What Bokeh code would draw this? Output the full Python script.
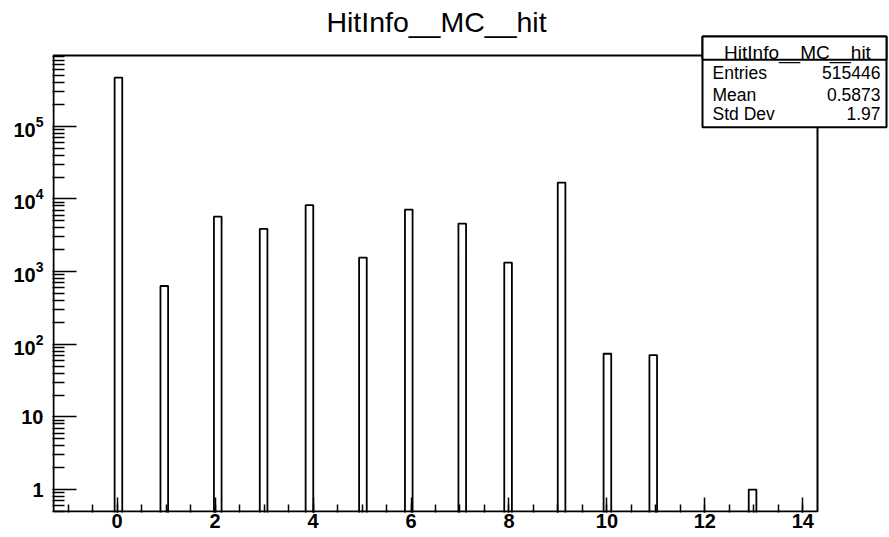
import numpy as np
from bokeh.plotting import figure
from bokeh.models import (Range1d, FixedTicker, LogTickFormatter,
                          BoxAnnotation, Label)
from bokeh.embed import file_html
from bokeh.resources import INLINE

# ---------------- data ----------------
title_text = "HitInfo__MC__hit"
hit_values = [0, 1, 2, 3, 4, 5, 6, 7, 8, 9, 10, 11, 13]
hit_counts = [465477, 633, 5720, 3860, 8200, 1560, 7140, 4580, 1330, 16800, 74, 71, 1]
n_bins = 100
x_min, x_max = -1.3, 14.3
y_min, y_max = 0.5, 9.4e5

stats_names = ["Entries", "Mean", "Std Dev"]
stats_values = ["515446", "0.5873", "1.97"]

x_tick_values = [0, 2, 4, 6, 8, 10, 12, 14]
y_tick_values = [1, 10, 100, 1000, 10000, 100000]
y_plain_labels = {1: "1", 10: "10"}

FONT = "Liberation Sans"

# ---------------- layout (pixels) ----------------
W, H = 889, 537
frame_l, frame_b = 52, 25                 # axis panels
hist_left_px, hist_right_px = 53, 817     # histogram pad inside the canvas
hist_top_px, hist_bot_px = 55, 511

px_per_x = (hist_right_px - hist_left_px) / (x_max - x_min)
px_per_dec = (hist_bot_px - hist_top_px) / (np.log10(y_max) - np.log10(y_min))
xr_start = x_min - (hist_left_px - frame_l) / px_per_x
xr_end = x_max + (W - hist_right_px) / px_per_x
yr_start = 10 ** (np.log10(y_min) - ((H - frame_b) - hist_bot_px) / px_per_dec)
yr_end = 10 ** (np.log10(y_max) + hist_top_px / px_per_dec)

def fx(X):   # canvas x -> frame screen x
    return X - frame_l

def fy(Y):   # canvas y -> frame screen y (from frame bottom)
    return (H - frame_b) - Y

# histogram bins (ROOT style: 100 bins over the axis range)
edges = np.linspace(x_min, x_max, n_bins + 1)
idx = np.searchsorted(edges, np.array(hit_values, dtype=float), side="right") - 1
lefts = edges[idx]
rights = edges[idx + 1]

p = figure(width=W, height=H,
           x_range=Range1d(xr_start, xr_end), y_range=Range1d(yr_start, yr_end),
           y_axis_type="log", output_backend="svg", toolbar_location=None,
           min_border_left=frame_l, min_border_right=0,
           min_border_top=0, min_border_bottom=frame_b)

p.background_fill_color = "white"
p.border_fill_color = "white"
p.outline_line_color = None
p.grid.visible = False

p.quad(left=lefts, right=rights, top=hit_counts, bottom=0.05,
       fill_color=None, line_color="black", line_width=1.8)

# frame box of the histogram pad
p.line(x=[x_min, x_max, x_max, x_min, x_min],
       y=[y_min, y_min, y_max, y_max, y_min],
       line_color="black", line_width=2)

# x axis
x_minor = [k * 0.5 for k in range(-10, 40) if x_min <= k * 0.5 <= x_max]
xa = p.xaxis[0]
xa.ticker = FixedTicker(ticks=x_tick_values, minor_ticks=x_minor)
xa.major_tick_in = 15
xa.major_tick_out = 0
xa.minor_tick_in = 8
xa.minor_tick_out = 0
xa.major_tick_line_width = 1.5
xa.minor_tick_line_width = 1.5
xa.axis_line_color = None
xa.major_tick_line_color = "black"
xa.minor_tick_line_color = "black"
xa.major_label_text_font = FONT
xa.major_label_text_font_style = "bold"
xa.major_label_text_font_size = "20px"
xa.major_label_text_color = "black"
xa.major_label_standoff = 1

# y axis
minor_y = []
for e in range(-1, 6):
    for m in range(2, 10):
        v = m * 10.0 ** e
        if y_min <= v <= y_max:
            minor_y.append(v)
ya = p.yaxis[0]
ya.ticker = FixedTicker(ticks=y_tick_values, minor_ticks=minor_y)
ya.formatter = LogTickFormatter()
ya.major_label_overrides = y_plain_labels
ya.major_tick_in = 24
ya.major_tick_out = 0
ya.minor_tick_in = 12
ya.minor_tick_out = 0
ya.major_tick_line_width = 1.5
ya.minor_tick_line_width = 1.5
ya.axis_line_color = None
ya.major_tick_line_color = "black"
ya.minor_tick_line_color = "black"
ya.major_label_text_font = FONT
ya.major_label_text_font_style = "bold"
ya.major_label_text_font_size = "20px"
ya.major_label_text_color = "black"
ya.major_label_standoff = 9

# title
p.add_layout(Label(x=(x_min + x_max) / 2 + 0.02, y=fy(21), x_units="data", y_units="screen",
                   text=title_text, text_font=FONT, text_font_size="28.5px",
                   text_align="center", text_baseline="alphabetic",
                   text_color="black"))

# stats box
box_kw = dict(left_units="screen", right_units="screen",
              top_units="screen", bottom_units="screen",
              fill_color="white", fill_alpha=1.0,
              line_color="black", line_width=2, line_alpha=1.0,
              level="overlay")
p.add_layout(BoxAnnotation(left=fx(702), right=fx(886), top=fy(36), bottom=fy(126.7), **box_kw))
p.add_layout(BoxAnnotation(left=fx(702), right=fx(886), top=fy(36), bottom=fy(59.3), **box_kw))

p.add_layout(Label(x=fx(797), y=fy(51.5), x_units="screen", y_units="screen",
                   text=title_text, text_font=FONT, text_font_size="19px",
                   text_align="center", text_baseline="alphabetic",
                   text_color="black", level="overlay"))
row_Y = [72.3, 94.0, 113.3]
for name, val, Y in zip(stats_names, stats_values, row_Y):
    p.add_layout(Label(x=fx(712), y=fy(Y), x_units="screen", y_units="screen",
                       text=name, text_font=FONT, text_font_size="17.5px",
                       text_align="left", text_baseline="alphabetic",
                       text_color="black", level="overlay"))
    p.add_layout(Label(x=fx(880), y=fy(Y), x_units="screen", y_units="screen",
                       text=val, text_font=FONT, text_font_size="17.5px",
                       text_align="right", text_baseline="alphabetic",
                       text_color="black", level="overlay"))

open("out.html", "w").write(file_html(p, INLINE))
